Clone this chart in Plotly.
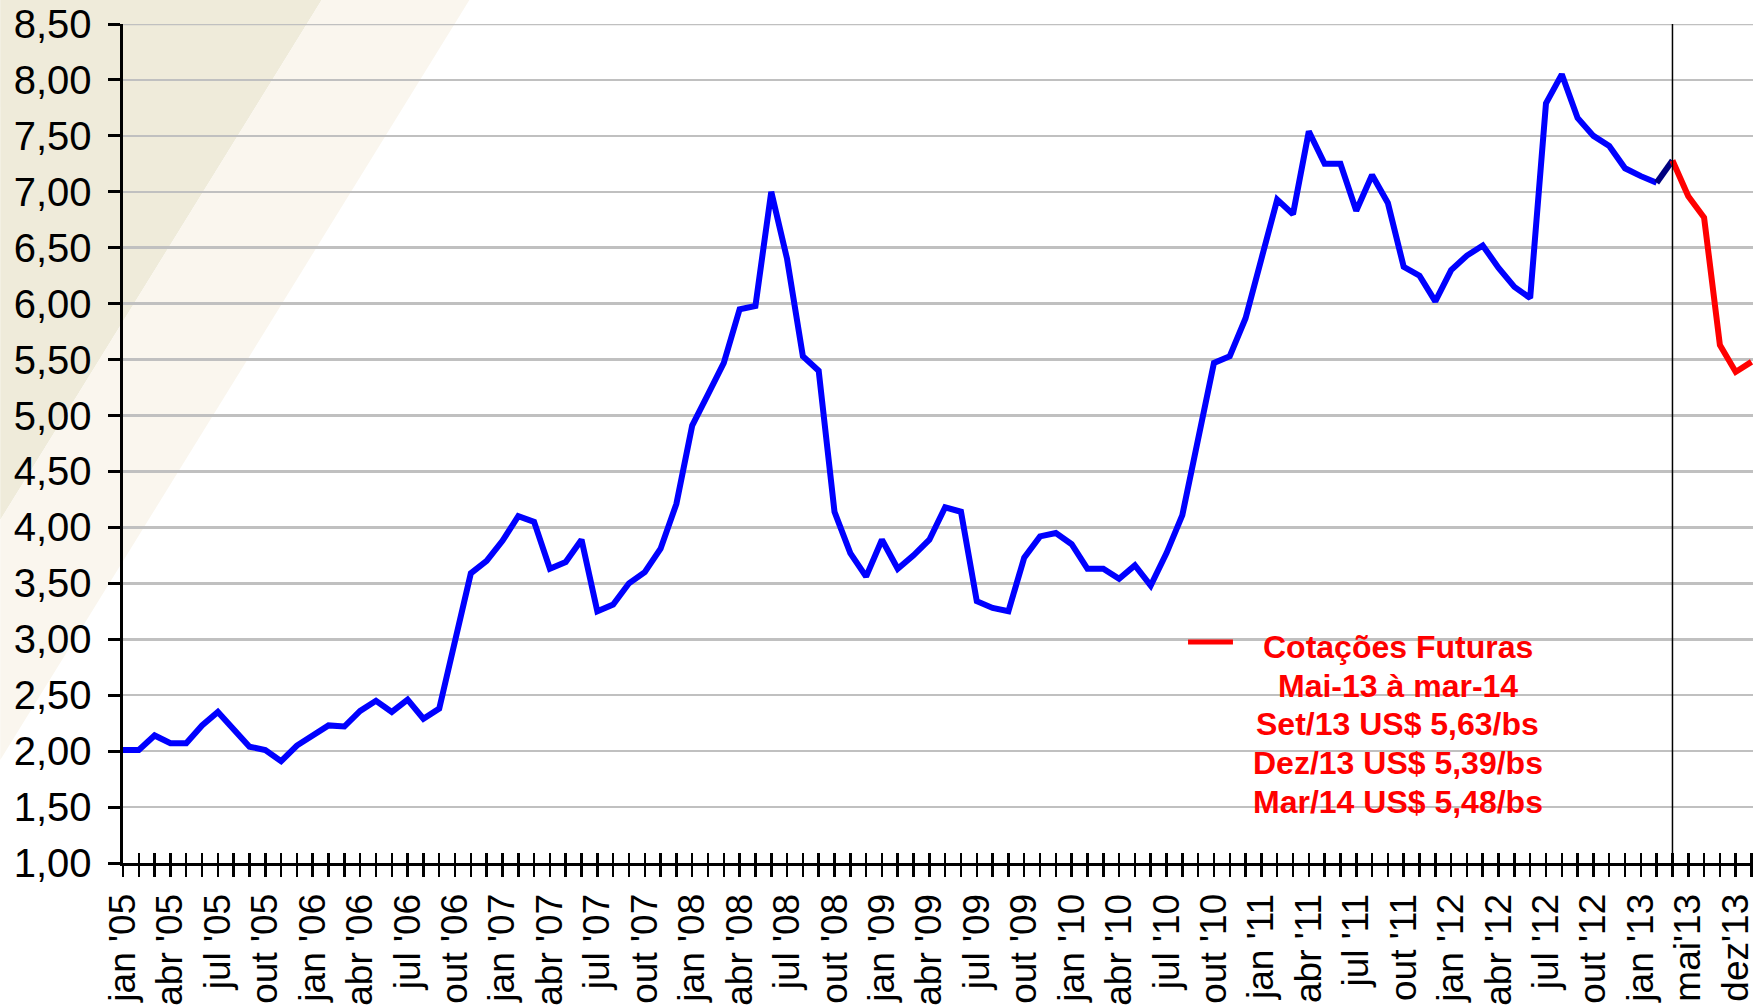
import plotly.graph_objects as go

# ---------------- data ----------------
meses = ["jan", "fev", "mar", "abr", "mai", "jun", "jul", "ago", "set", "out", "nov", "dez"]
categorias_spot = [f"{m} '{a:02d}" for a in range(5, 13) for m in meses] + ["jan '13", "fev '13", "mar '13"]
categorias_futuros = ["mar '13", "mai '13", "jul '13", "set '13", "dez '13", "mar '14"]

precos_spot = [
    2.01, 2.01, 2.14, 2.07, 2.07, 2.23, 2.35, 2.19, 2.04, 2.01, 1.91, 2.05,   # 2005
    2.14, 2.23, 2.22, 2.36, 2.45, 2.35, 2.46, 2.29, 2.38, 2.97, 3.59, 3.70,   # 2006
    3.88, 4.10, 4.05, 3.63, 3.69, 3.89, 3.25, 3.31, 3.50, 3.60, 3.81, 4.21,   # 2007
    4.91, 5.19, 5.47, 5.95, 5.98, 7.00, 6.40, 5.53, 5.40, 4.14, 3.77, 3.56,   # 2008
    3.89, 3.63, 3.75, 3.89, 4.18, 4.14, 3.34, 3.28, 3.25, 3.73, 3.92, 3.95,   # 2009
    3.85, 3.63, 3.63, 3.54, 3.66, 3.48, 3.77, 4.11, 4.80, 5.47, 5.53, 5.87,   # 2010
    6.40, 6.93, 6.80, 7.54, 7.25, 7.25, 6.83, 7.15, 6.90, 6.33, 6.25, 6.02,   # 2011
    6.30, 6.43, 6.52, 6.32, 6.15, 6.05, 7.79, 8.05, 7.66, 7.50, 7.41, 7.21,   # 2012
    7.14, 7.08, 7.28,                                                         # 2013
]
cotacoes_futuras = [7.28, 6.96, 6.77, 5.63, 5.39, 5.48]

rotulos_x = [
    "jan '05", "abr '05", "jul '05", "out '05", "jan '06", "abr '06", "jul '06", "out '06",
    "jan '07", "abr '07", "jul '07", "out '07", "jan '08", "abr '08", "jul '08", "out '08",
    "jan '09", "abr '09", "jul '09", "out '09", "jan '10", "abr '10", "jul '10", "out '10",
    "jan '11", "abr '11", "jul '11", "out '11", "jan '12", "abr '12", "jul '12", "out '12",
    "jan '13", "mai'13", "dez'13",
]
legenda_linhas = [
    "Cotações Futuras",
    "Mai-13 à mar-14",
    "Set/13 US$ 5,63/bs",
    "Dez/13 US$ 5,39/bs",
    "Mar/14 US$ 5,48/bs",
]

# ---------------- derived positions ----------------
todas_categorias = categorias_spot + categorias_futuros[1:]
n_cat = len(todas_categorias)
x_spot = list(range(len(categorias_spot)))
x_fut = [todas_categorias.index(c) for c in categorias_futuros]
x_divisor = categorias_spot.index("mar '13")
tick_all = list(range(n_cat))
tick_lab = [rotulos_x[i // 3] if i % 3 == 0 and i // 3 < len(rotulos_x) else "" for i in tick_all]

FONT = "Liberation Sans, Arial, sans-serif"
W, H = 1756, 1006
L, T, B = 123, 24, 143
PW, PH = W - L, H - T - B
Y_MIN, Y_MAX = 1, 8.5


def px(xp):
    return (xp - L) / PW


def py(yp):
    return (H - B - yp) / PH


LW = 6
fig = go.Figure()

fig.add_trace(go.Scatter(
    x=x_spot[:-1], y=precos_spot[:-1], mode="lines",
    line=dict(color="#0000FF", width=LW), showlegend=False, hoverinfo="skip"))
fig.add_trace(go.Scatter(
    x=x_spot[-2:], y=precos_spot[-2:], mode="lines",
    line=dict(color="#000080", width=LW), showlegend=False, hoverinfo="skip"))
fig.add_trace(go.Scatter(
    x=x_fut, y=cotacoes_futuras, mode="lines",
    line=dict(color="#FF0000", width=LW), showlegend=False, hoverinfo="skip"))
# dummy trace to activate the overlay axis (upper half of crossing ticks)
fig.add_trace(go.Scatter(x=[0], y=[None], xaxis="x2", yaxis="y",
                         showlegend=False, hoverinfo="skip"))

x_range = [0, (W - L) / 15.84]

shapes = [
    # slide background stripes
    dict(type="path", xref="paper", yref="paper", layer="below", line=dict(width=0),
         fillcolor="#EFEBDA",
         path=f"M {px(0)} {py(0)} L {px(322)} {py(0)} L {px(0)} {py(520)} Z"),
    dict(type="path", xref="paper", yref="paper", layer="below", line=dict(width=0),
         fillcolor="#FAF6EE",
         path=f"M {px(322)} {py(0)} L {px(470)} {py(0)} L {px(0)} {py(760)} L {px(0)} {py(520)} Z"),
    # top gridline
    dict(type="line", xref="paper", yref="y", x0=0, x1=1, y0=Y_MAX, y1=Y_MAX,
         line=dict(color="#C0C0C0", width=2.5), layer="below"),
    # divider line
    dict(type="line", xref="x", yref="y", x0=x_divisor, x1=x_divisor, y0=Y_MIN, y1=Y_MAX,
         line=dict(color="black", width=1.5)),
    # legend sample
    dict(type="line", xref="paper", yref="paper", x0=px(1190), x1=px(1235),
         y0=py(642), y1=py(642), line=dict(color="#FF0000", width=5)),
]

annotations = []
for i, txt in enumerate(legenda_linhas):
    annotations.append(dict(
        xref="paper", yref="paper", x=px(1400), y=py(647 + i * 38.7),
        xanchor="center", yanchor="middle", showarrow=False,
        text=f"<b>{txt}</b>", font=dict(family=FONT, size=32, color="#FF0000")))

fig.update_layout(
    width=W, height=H,
    margin=dict(l=L, r=0, t=T, b=B, pad=0),
    paper_bgcolor="white", plot_bgcolor="rgba(0,0,0,0)",
    separators=",.",
    shapes=shapes, annotations=annotations,
    xaxis=dict(
        range=x_range, tickmode="array", tickvals=tick_all, ticktext=tick_lab,
        ticks="outside", ticklen=11, tickwidth=2.5, tickcolor="black",
        tickangle=-90, ticklabelstandoff=2, ticklabeloverflow="allow",
        tickfont=dict(family=FONT, size=37, color="black"),
        showline=True, linecolor="black", linewidth=3,
        showgrid=False, zeroline=False,
    ),
    xaxis2=dict(
        range=x_range, overlaying="x", anchor="y", side="bottom",
        tickmode="array", tickvals=tick_all, showticklabels=False,
        ticks="inside", ticklen=10, tickwidth=2.5, tickcolor="black",
        showline=False, showgrid=False, zeroline=False,
    ),
    yaxis=dict(
        range=[Y_MIN, Y_MAX], tick0=1, dtick=0.5, tickformat=".2f",
        ticks="outside", ticklen=12, tickwidth=3, tickcolor="black",
        ticklabelstandoff=8,
        tickfont=dict(family=FONT, size=40, color="black"),
        showline=True, linecolor="black", linewidth=3.5,
        showgrid=True, gridcolor="#C0C0C0", gridwidth=2.5, zeroline=False,
    ),
)

fig.write_html(
    "out.html",
    config={"displayModeBar": False, "staticPlot": True},
    post_script="document.body.style.margin='0';document.body.style.overflow='hidden';",
)
